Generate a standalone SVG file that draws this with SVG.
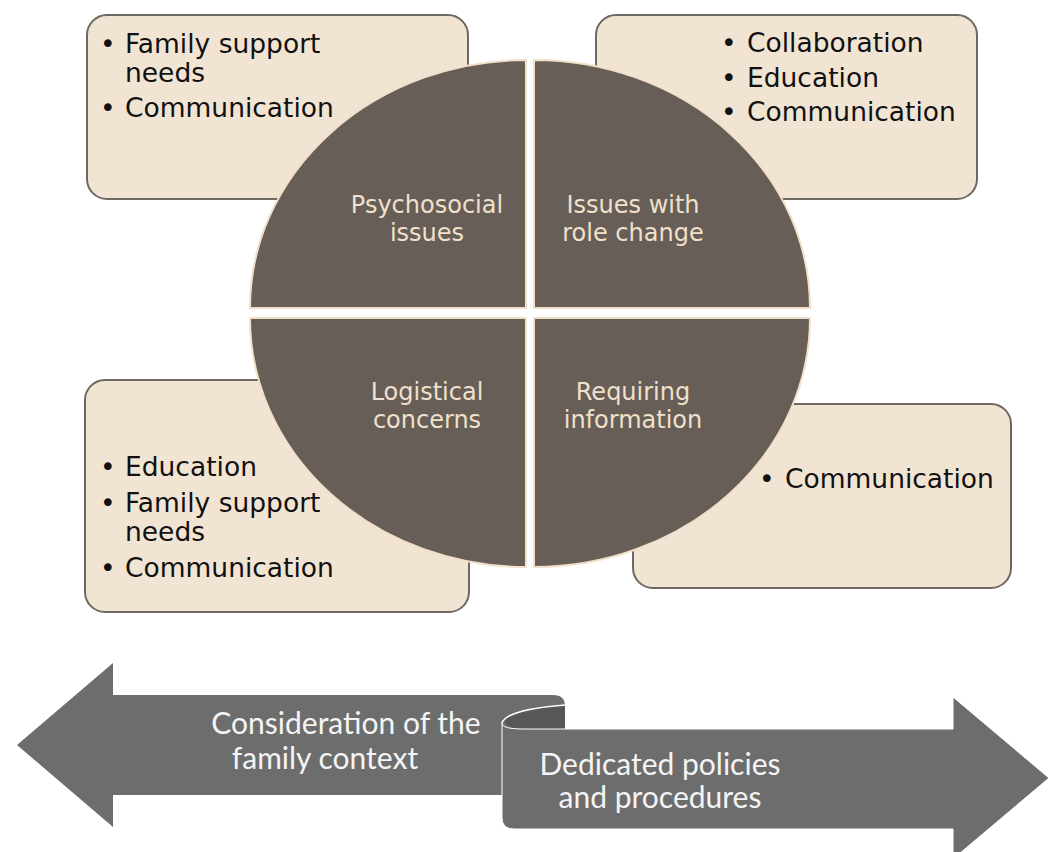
<svg xmlns="http://www.w3.org/2000/svg" width="1055" height="852" viewBox="0 0 1055 852">
  <style>
    .box { fill: #f2e4d3; stroke: #6e6863; stroke-width: 2; }
    .quad { fill: #665e57; stroke: #f1dfca; stroke-width: 2; }
    .item { font-family: "DejaVu Sans", "Liberation Sans", sans-serif; font-size: 26.5px; fill: #111111; }
    .label { font-family: "DejaVu Sans", "Liberation Sans", sans-serif; font-size: 24px; fill: #f1e0cb; text-anchor: middle; }
    .band { fill: #6d6d6d; }
    .band-text { font-family: Lato, "Open Sans", "Liberation Sans", sans-serif; font-size: 30px; fill: #f4f4f4; text-anchor: middle; }
  </style>

  <rect width="1055" height="852" fill="#ffffff"/>

  <!-- bullet boxes (drawn under the circle) -->
  <g id="box-top-left">
    <rect class="box" x="87" y="15" width="381" height="184" rx="20"/>
    <text class="item" x="100" y="52.7">•</text>
    <text class="item" x="125" y="52.7">Family support</text>
    <text class="item" x="125" y="81.7">needs</text>
    <text class="item" x="100" y="117.3">•</text>
    <text class="item" x="125" y="117.3">Communication</text>
  </g>

  <g id="box-top-right">
    <rect class="box" x="596" y="15" width="381" height="184" rx="20"/>
    <text class="item" x="721" y="52">•</text>
    <text class="item" x="747" y="52">Collaboration</text>
    <text class="item" x="721" y="87">•</text>
    <text class="item" x="747" y="87">Education</text>
    <text class="item" x="721" y="121">•</text>
    <text class="item" x="747" y="121">Communication</text>
  </g>

  <g id="box-bottom-left">
    <rect class="box" x="85" y="380" width="384" height="232" rx="20"/>
    <text class="item" x="100" y="476">•</text>
    <text class="item" x="125" y="476">Education</text>
    <text class="item" x="100" y="511.7">•</text>
    <text class="item" x="125" y="511.7">Family support</text>
    <text class="item" x="125" y="540.5">needs</text>
    <text class="item" x="100" y="576.7">•</text>
    <text class="item" x="125" y="576.7">Communication</text>
  </g>

  <g id="box-bottom-right">
    <rect class="box" x="633" y="404" width="378" height="184" rx="20"/>
    <text class="item" x="759" y="488">•</text>
    <text class="item" x="785" y="488">Communication</text>
  </g>

  <!-- four quarters of the central ellipse -->
  <g id="quad-psychosocial">
    <path class="quad" d="M526,308 L250,308 A276,248 0 0 1 526,60 Z"/>
    <text class="label" x="427" y="213">Psychosocial</text>
    <text class="label" x="427" y="241">issues</text>
  </g>

  <g id="quad-role-change">
    <path class="quad" d="M534,308 L534,60 A276,248 0 0 1 810,308 Z"/>
    <text class="label" x="633" y="213">Issues with</text>
    <text class="label" x="633" y="241">role change</text>
  </g>

  <g id="quad-logistical">
    <path class="quad" d="M526,318 L526,567 A276,249 0 0 1 250,318 Z"/>
    <text class="label" x="427" y="400">Logistical</text>
    <text class="label" x="427" y="428">concerns</text>
  </g>

  <g id="quad-information">
    <path class="quad" d="M534,318 L810,318 A276,249 0 0 1 534,567 Z"/>
    <text class="label" x="633" y="400">Requiring</text>
    <text class="label" x="633" y="428">information</text>
  </g>

  <!-- double-headed scroll band -->
  <g id="arrows">
    <g id="arrow-family-context">
      <path class="band" d="M17,745 L113,663 L113,695 L553,695 Q565,695 565,706 L565,760 L502,760 L502,795 L113,795 L113,827 Z"/>
      <text class="band-text" x="346" y="734">Consideration of the</text>
      <text class="band-text" x="325" y="769">family context</text>
    </g>
    <g id="arrow-policies">
      <!-- back side of the rolled end -->
      <path d="M505,721 C515,711 545,707 565,705 L565,729 L525,729 C512,729 505,726 505,721 Z" fill="#575757"/>
      <path class="band" d="M502,723 C502,728 512,729 525,729 L953,729 L953,697 L1049,778 L953,859 L953,829 L514,829 Q502,829 502,818 Z" stroke="#ffffff" stroke-width="1"/>
      <path d="M502,723 C506,711 540,707 565,705" fill="none" stroke="#ffffff" stroke-width="1.5"/>
      <text class="band-text" x="660" y="775">Dedicated policies</text>
      <text class="band-text" x="660" y="808">and procedures</text>
    </g>
  </g>
</svg>
